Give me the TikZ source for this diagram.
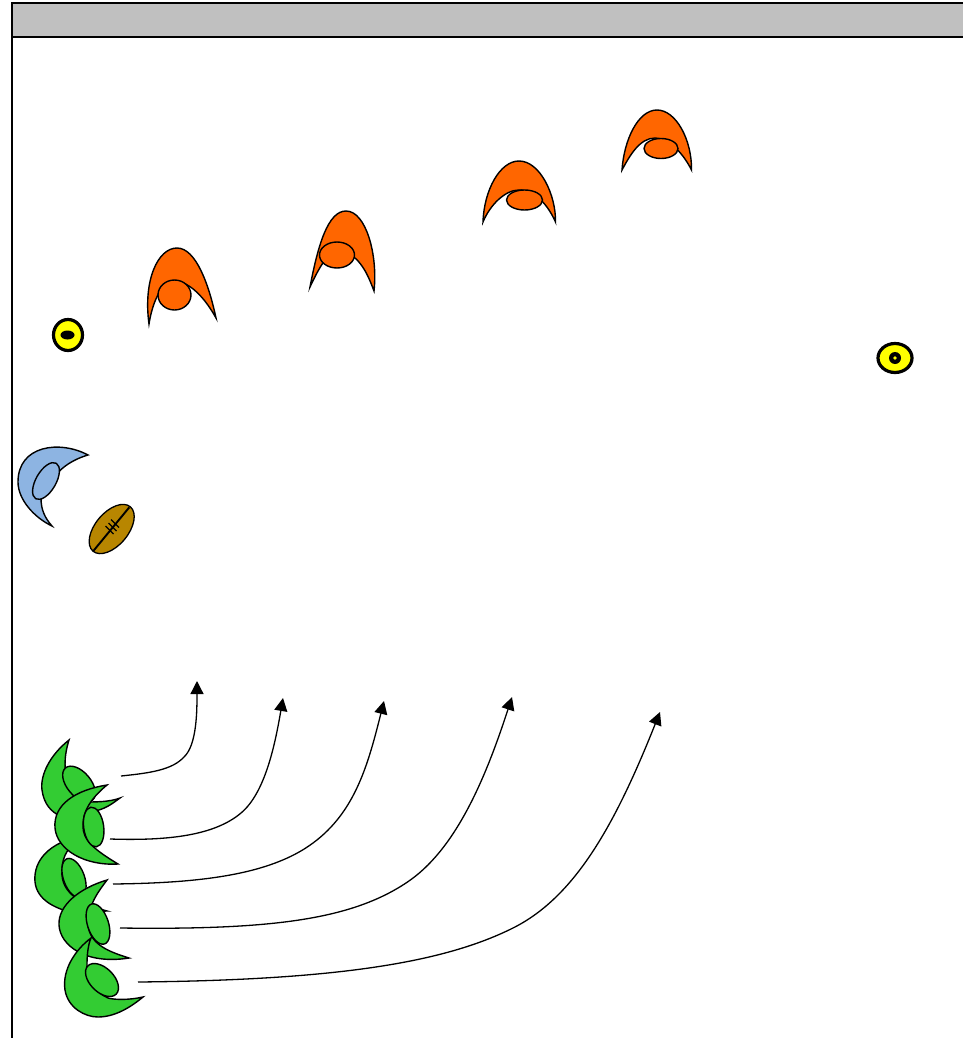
\documentclass[tikz,border=0pt]{standalone}
\usepackage{xcolor}
\usepackage{tikz}
\usetikzlibrary{
  positioning,
  arrows.meta
}
\definecolor{headgray}{HTML}{C0C0C0}
\definecolor{capeorange}{HTML}{FF6600}
\definecolor{capeblue}{HTML}{8DB4E2}
\definecolor{capegreen}{HTML}{33CC33}
\definecolor{balltan}{HTML}{B88600}
\definecolor{coneyellow}{HTML}{FFFF00}

\begin{document}
\begin{tikzpicture}[
  x=1pt,
  y=-1pt,
  frame/.style={
    draw=black,
    line width=1.6pt
  },
  orangeplayer/.style={
    draw=black,
    fill=capeorange,
    line width=1.4pt
  },
  blueplayer/.style={
    draw=black,
    fill=capeblue,
    line width=1.4pt
  },
  greenplayer/.style={
    draw=black,
    fill=capegreen,
    line width=1.4pt
  },
  cone/.style={
    draw=black,
    fill=coneyellow,
    line width=3.2pt
  },
  run/.style={
    -{Triangle[length=13pt,width=13pt]},
    line width=1.3pt,
    draw=black
  }
]
\useasboundingbox (0,0) rectangle (962,1038);

% header and left edge
\fill[headgray] (12,3) rectangle (964,37);
\draw[frame] (964,3) -- (12,3) -- (12,1040);
\draw[frame] (12,37) -- (964,37);

% orange players
\draw[orangeplayer] (149,324) .. controls (143,280) and (158,248) .. (177,248) .. controls (196,248) and (209,285) .. (216,318) .. controls (205,298) and (190,282) .. (175,281) .. controls (160,282) and (152,305) .. (149,324) -- cycle;
\draw[orangeplayer] (174.5,295) ellipse [x radius=16.5, y radius=15];
\draw[orangeplayer] (310,287) .. controls (318,245) and (328,211) .. (346,211) .. controls (366,211) and (378,255) .. (374,291) .. controls (368,275) and (360,255) .. (340,250) .. controls (328,250) and (318,270) .. (310,287) -- cycle;
\draw[orangeplayer] (337,255) ellipse [x radius=17.5, y radius=13];
\draw[orangeplayer] (483,222) .. controls (484,190) and (500,161) .. (519,161) .. controls (540,161) and (556,195) .. (555.5,222) .. controls (548,205) and (535,190) .. (519,190) .. controls (505,190) and (490,205) .. (483,222) -- cycle;
\draw[orangeplayer] (524.5,200) ellipse [x radius=18, y radius=10];
\draw[orangeplayer] (622,170) .. controls (624,140) and (638,110) .. (657,110) .. controls (676,110) and (692,140) .. (691.5,170) .. controls (684,155) and (670,138) .. (655,138) .. controls (640,138) and (630,155) .. (622,170) -- cycle;
\draw[orangeplayer] (661,148.5) ellipse [x radius=17, y radius=10];

% cones
\draw[cone] (68,335) ellipse [x radius=14.5, y radius=15.5];
\fill[black] (67.5,335) ellipse [x radius=7, y radius=4.5];
\draw[cone] (895,358) ellipse [x radius=17, y radius=14.5];
\fill[black] (895,358) circle [radius=6];
\fill[coneyellow] (895,358) circle [radius=1.8];

% blue player and ball
\draw[blueplayer] (88,455) .. controls (60,440) and (18,445) .. (18,482) .. controls (18,500) and (35,518) .. (52,526) .. controls (45,518) and (41,510) .. (41,498) .. controls (50,485) and (55,465) .. (88,455) -- cycle;
\draw[blueplayer, shift={(46,481)}, rotate=60] (0,0) ellipse [x radius=20.5, y radius=10];
\draw[line width=1.3pt, fill=balltan, shift={(111.7,529)}, rotate=50] (0,0) ellipse [x radius=29, y radius=16.5];
\draw[line width=1.9pt] (93.3,551) -- (129.3,507.3);
\draw[line width=1.1pt] (105.5,526) -- (113.5,534);
\draw[line width=1.1pt] (108.5,523) -- (116.5,531);
\draw[line width=1.1pt] (111,519.5) -- (119,527.5);

% green players
\draw[greenplayer] (69,740) .. controls (50,755) and (40,775) .. (42,790) .. controls (44,805) and (52,812) .. (60,816) -- (90,812) .. controls (105,810) and (113,803) .. (120,798) .. controls (110,802) and (95,802) .. (85,802) .. controls (72,798) and (58,775) .. (69,740) -- cycle;
\draw[greenplayer, shift={(79,784)}, rotate=-50] (0,0) ellipse [x radius=21, y radius=12];
\draw[greenplayer] (82,836) .. controls (50,842) and (33,860) .. (35,882) .. controls (37,900) and (55,908) .. (70,912) -- (107,911) .. controls (85,905) and (60,895) .. (62,870) .. controls (62,855) and (70,845) .. (82,836) -- cycle;
\draw[greenplayer, shift={(74,878)}, rotate=-70] (0,0) ellipse [x radius=20.5, y radius=10.5];
\draw[greenplayer] (107,785) .. controls (75,790) and (53,805) .. (55,828) .. controls (57,850) and (85,866) .. (118,864) .. controls (95,850) and (82,840) .. (83,825) .. controls (83,808) and (95,795) .. (107,785) -- cycle;
\draw[greenplayer, shift={(93.7,827)}, rotate=-82] (0,0) ellipse [x radius=20, y radius=10];
\draw[greenplayer] (107,880) .. controls (80,888) and (58,905) .. (59,925) .. controls (60,945) and (85,965) .. (129,958) .. controls (110,952) and (90,945) .. (88,925) .. controls (88,905) and (98,892) .. (107,880) -- cycle;
\draw[greenplayer, shift={(98,924)}, rotate=-72] (0,0) ellipse [x radius=21, y radius=10.5];
\draw[greenplayer] (91,938) .. controls (75,950) and (62,970) .. (65,990) .. controls (68,1008) and (85,1017) .. (98,1017) .. controls (115,1017) and (131,1007) .. (143,997) .. controls (130,1000) and (115,1000) .. (108,998) .. controls (95,992) and (85,980) .. (87,965) .. controls (87,955) and (88,945) .. (91,938) -- cycle;
\draw[greenplayer, shift={(102,980)}, rotate=-45] (0,0) ellipse [x radius=20, y radius=12];

% runs
\coordinate (g1) at (121,776);
\coordinate (g2) at (110,839);
\coordinate (g3) at (113,884);
\coordinate (g4) at (120,928);
\coordinate (g5) at (138,982);
\coordinate (t1) at (197,681);
\coordinate (t2) at (283,698);
\coordinate (t3) at (384,701);
\coordinate (t4) at (512,697);
\coordinate (t5) at (660,712);
\draw[run] (g1) .. controls (150,773) and (172,770) .. (184,757) .. controls (197,745) and (197,710) .. (t1);
\draw[run] (g2) .. controls (170,841) and (215,835) .. (241,813) .. controls (265,793) and (275,745) .. (t2);
\draw[run] (g3) .. controls (200,883) and (270,875) .. (313,843) .. controls (355,812) and (368,765) .. (t3);
\draw[run] (g4) .. controls (270,930) and (350,920) .. (406,883) .. controls (455,851) and (485,780) .. (t4);
\draw[run] (g5) .. controls (340,980) and (445,962) .. (513,928) .. controls (575,897) and (615,825) .. (t5);

\end{tikzpicture}
\end{document}
